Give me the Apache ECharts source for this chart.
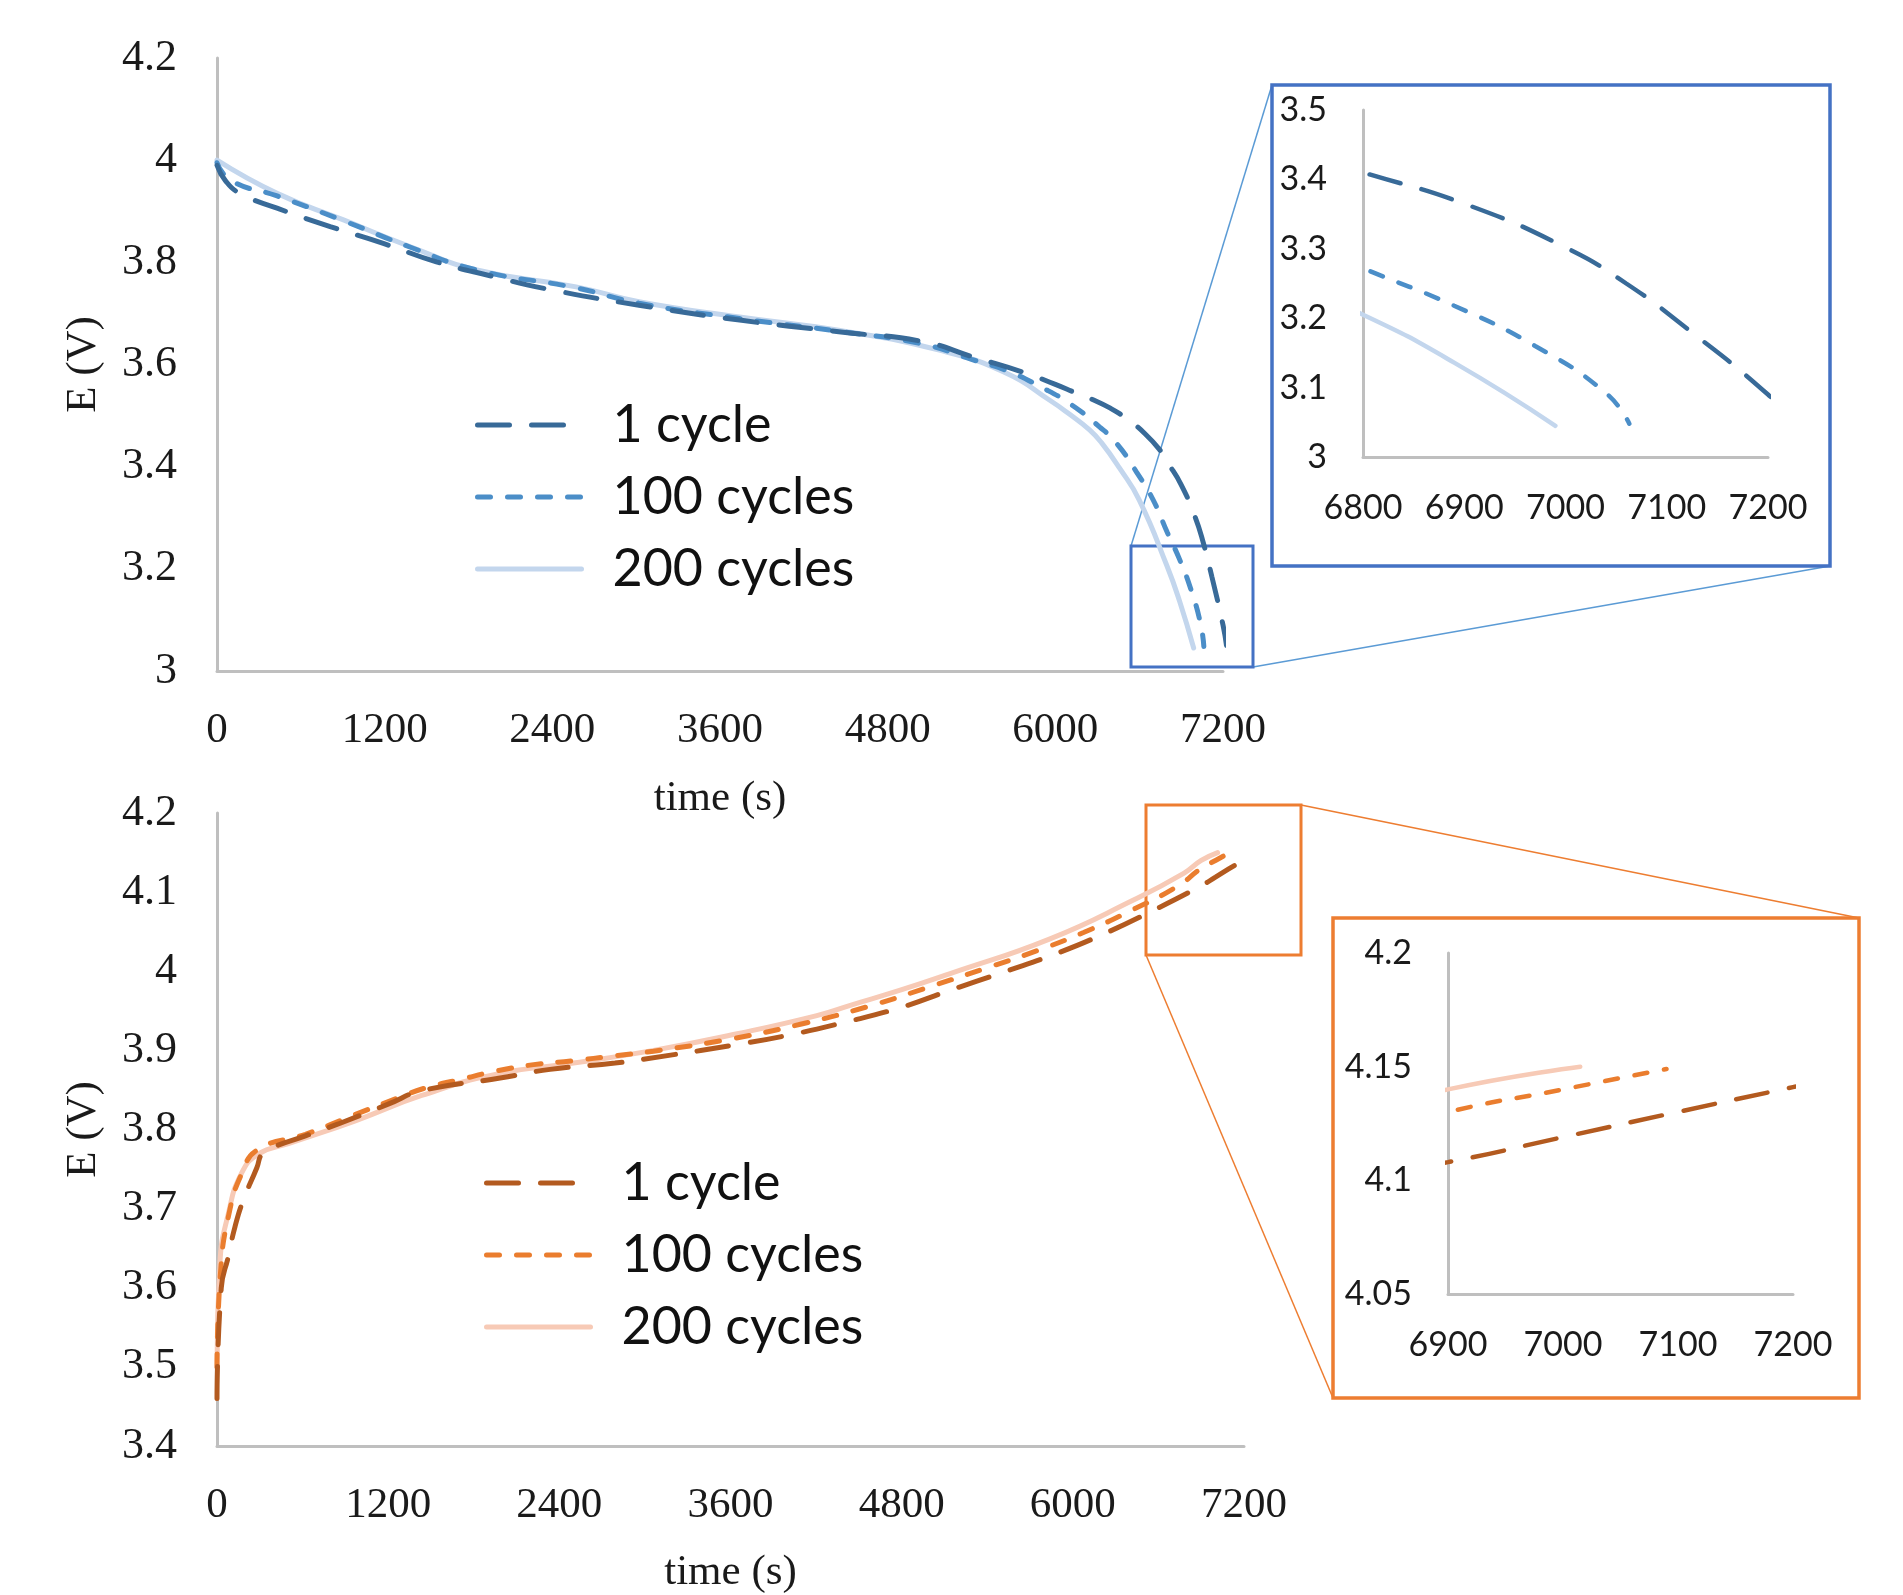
<!DOCTYPE html>
<html><head><meta charset="utf-8">
<script src="https://cdn.jsdelivr.net/npm/echarts@6/dist/echarts.min.js"></script>
<style>html,body{margin:0;padding:0;background:#fff}#c{width:1903px;height:1595px}</style>
</head><body><div id="c"></div>
<script>
// ---------- data ----------
const seriesLabels = ['1 cycle', '100 cycles', '200 cycles'];
const xAxisTitle = 'time (s)';
const yAxisTitle = 'E (V)';

// Discharge (top panel): [time s, E V]
const discharge1 = [[0,3.99],[60,3.96],[165,3.935],[430,3.906],[810,3.87],[1190,3.837],[1570,3.801],[1980,3.772],[2340,3.749],[3020,3.716],[3740,3.687],[4450,3.664],[5050,3.645],[5410,3.615],[5790,3.583],[6000,3.561],[6150,3.544],[6270,3.531],[6390,3.515],[6510,3.494],[6640,3.465],[6750,3.432],[6800,3.41],[6900,3.365],[7000,3.302],[7060,3.25],[7120,3.185],[7200,3.09],[7225,3.05]];
const discharge100 = [[0,3.995],[100,3.96],[430,3.93],[900,3.882],[1380,3.83],[1860,3.785],[2570,3.75],[3020,3.72],[3740,3.69],[4450,3.665],[5050,3.64],[5400,3.61],[5670,3.586],[5890,3.557],[6100,3.524],[6316,3.478],[6440,3.445],[6580,3.39],[6700,3.335],[6800,3.272],[6890,3.218],[6970,3.16],[7040,3.092],[7063,3.048]];
const discharge200 = [[0,4.0],[430,3.935],[905,3.883],[1380,3.831],[1860,3.785],[2570,3.752],[3020,3.723],[3740,3.693],[4450,3.667],[5170,3.628],[5650,3.583],[5960,3.53],[6100,3.503],[6245,3.472],[6330,3.447],[6460,3.397],[6600,3.335],[6800,3.205],[6890,3.136],[6990,3.045]];

// Charge (bottom panel): [time s, E V]
const charge1 = [[0,3.46],[30,3.6],[80,3.64],[126,3.677],[185,3.711],[280,3.752],[315,3.769],[385,3.777],[620,3.792],[850,3.807],[1200,3.832],[1435,3.849],[1985,3.865],[2335,3.876],[2790,3.884],[3180,3.894],[3600,3.906],[4000,3.919],[4390,3.935],[4790,3.954],[5140,3.976],[5515,3.999],[5865,4.021],[6215,4.047],[6565,4.077],[6900,4.108],[7000,4.119],[7090,4.129],[7200,4.141],[7220,4.143]];
const charge100 = [[0,3.5],[25,3.62],[80,3.69],[175,3.745],[290,3.775],[620,3.794],[970,3.819],[1270,3.84],[1470,3.853],[1700,3.863],[1960,3.874],[2220,3.882],[2500,3.887],[2780,3.893],[3060,3.899],[3620,3.915],[4090,3.933],[4555,3.955],[5025,3.982],[5375,4.003],[5750,4.026],[6075,4.049],[6400,4.076],[6730,4.107],[6900,4.13],[7000,4.14],[7090,4.149]];
const charge200 = [[0,3.5],[20,3.63],[80,3.694],[170,3.744],[290,3.769],[500,3.782],[970,3.811],[1435,3.843],[1960,3.87],[2500,3.884],[3060,3.9],[3620,3.92],[4205,3.944],[4440,3.957],[4790,3.976],[5140,3.997],[5840,4.041],[6425,4.09],[6780,4.124],[6900,4.14],[7015,4.15]];

// ---------- styling ----------
const topColors = ['#386a98', '#4b8ec8', '#c3d6ed'];
const botColors = ['#b35a1f', '#ea7d2e', '#f7cab6'];
const dashes = [[32, 22], [13, 17], 'solid'];
const serif = 'Liberation Serif';
const sans = 'Lato';
const axisGrey = '#bfbfbf';
const plain = v => String(+(+v).toFixed(2));

function mainX(gi, nameGap, margin) {
  return {
    type: 'value', gridIndex: gi, min: 0, max: 7200, interval: 1200,
    name: xAxisTitle, nameLocation: 'middle', nameGap: nameGap,
    nameTextStyle: { fontFamily: serif, fontSize: 43, color: '#1a1a1a' },
    axisLine: { show: true, onZero: false, lineStyle: { color: axisGrey, width: 3 } },
    axisTick: { show: false }, splitLine: { show: false },
    axisLabel: { fontFamily: serif, fontSize: 43, color: '#1a1a1a', margin: margin, formatter: plain }
  };
}
function mainY(gi, min, max, interval) {
  return {
    type: 'value', gridIndex: gi, min: min, max: max, interval: interval,
    name: yAxisTitle, nameLocation: 'middle', nameGap: 112, nameRotate: 90,
    nameTextStyle: { fontFamily: serif, fontSize: 43, color: '#1a1a1a' },
    axisLine: { show: true, lineStyle: { color: axisGrey, width: 3 } },
    axisTick: { show: false }, splitLine: { show: false },
    axisLabel: { fontFamily: serif, fontSize: 44, color: '#1a1a1a', margin: 40, formatter: plain }
  };
}
function insetX(gi, min, max) {
  return {
    type: 'value', gridIndex: gi, min: min, max: max, interval: 100,
    axisLine: { show: true, onZero: false, lineStyle: { color: axisGrey, width: 3 } },
    axisTick: { show: false }, splitLine: { show: false },
    axisLabel: { fontFamily: sans, fontSize: 34, color: '#1a1a1a', margin: 34, formatter: plain }
  };
}
function insetY(gi, min, max, interval) {
  return {
    type: 'value', gridIndex: gi, min: min, max: max, interval: interval,
    axisLine: { show: true, lineStyle: { color: axisGrey, width: 3 } },
    axisTick: { show: false }, splitLine: { show: false },
    axisLabel: { fontFamily: sans, fontSize: 34, color: '#1a1a1a', margin: 36, formatter: plain }
  };
}

function mkSeries(prefix, datas, colors, axisIdx, width) {
  return datas.map((d, i) => ({
    name: prefix + seriesLabels[i], type: 'line', data: d,
    xAxisIndex: axisIdx, yAxisIndex: axisIdx,
    symbol: 'none', smooth: 0.5, clip: true, silent: true,
    lineStyle: { color: colors[i], width: width, type: dashes[i], cap: 'round' },
    itemStyle: { color: colors[i] },
    z: 3 - i
  }));
}

const topData = [discharge1, discharge100, discharge200];
const botData = [charge1, charge100, charge200];

const series = [].concat(
  mkSeries('D: ', topData, topColors, 0, 5),
  mkSeries('Dz: ', topData, topColors, 1, 4.5),
  mkSeries('C: ', botData, botColors, 2, 5),
  mkSeries('Cz: ', botData, botColors, 3, 4.5)
);

function legendCfg(prefix, left, top) {
  return {
    data: seriesLabels.map(s => prefix + s), orient: 'vertical',
    left: left, top: top, itemWidth: 104, itemHeight: 20, itemGap: 20,
    selectedMode: false,
    formatter: n => n.slice(prefix.length),
    itemStyle: { opacity: 0 },
    lineStyle: { width: 5 },
    textStyle: { fontFamily: sans, fontSize: 52, color: '#111', lineHeight: 52, padding: [0, 0, 0, 26] }
  };
}

const blue = '#4472c4', blueThin = '#5b9bd5', orange = '#ed7d31';
const option = {
  animation: false,
  backgroundColor: '#fff',
  grid: [
    { left: 217, top: 58, width: 1006, height: 613 },
    { left: 1363, top: 110, width: 405, height: 347 },
    { left: 217, top: 813, width: 1027, height: 638 },
    { left: 1448, top: 953, width: 345, height: 341 }
  ],
  xAxis: [mainX(0, 106, 38), insetX(1, 6800, 7200), mainX(2, 105, 38), insetX(3, 6900, 7200)],
  yAxis: [mainY(0, 3, 4.2, 0.2), insetY(1, 3, 3.5, 0.1), mainY(2, 3.4, 4.2, 0.1), insetY(3, 4.05, 4.2, 0.05)],
  legend: [legendCfg('D: ', 470, 394), legendCfg('C: ', 479, 1152)],
  series: series,
  graphic: [
    { type: 'line', shape: { x1: 1131, y1: 546, x2: 1272, y2: 85 }, style: { stroke: blueThin, lineWidth: 1.5 } },
    { type: 'line', shape: { x1: 1253, y1: 667, x2: 1830, y2: 566 }, style: { stroke: blueThin, lineWidth: 1.5 } },
    { type: 'rect', shape: { x: 1131, y: 546, width: 122, height: 121 }, style: { fill: 'none', stroke: blue, lineWidth: 3 } },
    { type: 'rect', shape: { x: 1272, y: 85, width: 558, height: 481 }, style: { fill: 'none', stroke: blue, lineWidth: 3.5 } },
    { type: 'line', shape: { x1: 1301, y1: 805, x2: 1859, y2: 918 }, style: { stroke: orange, lineWidth: 1.5 } },
    { type: 'line', shape: { x1: 1146, y1: 955, x2: 1333, y2: 1398 }, style: { stroke: orange, lineWidth: 1.5 } },
    { type: 'rect', shape: { x: 1146, y: 805, width: 155, height: 150 }, style: { fill: 'none', stroke: orange, lineWidth: 3 } },
    { type: 'rect', shape: { x: 1333, y: 918, width: 526, height: 480 }, style: { fill: 'none', stroke: orange, lineWidth: 3.5 } }
  ]
};

const chart = echarts.init(document.getElementById('c'), null, { renderer: 'canvas', width: 1903, height: 1595 });
chart.setOption(option);
</script>
</body></html>
